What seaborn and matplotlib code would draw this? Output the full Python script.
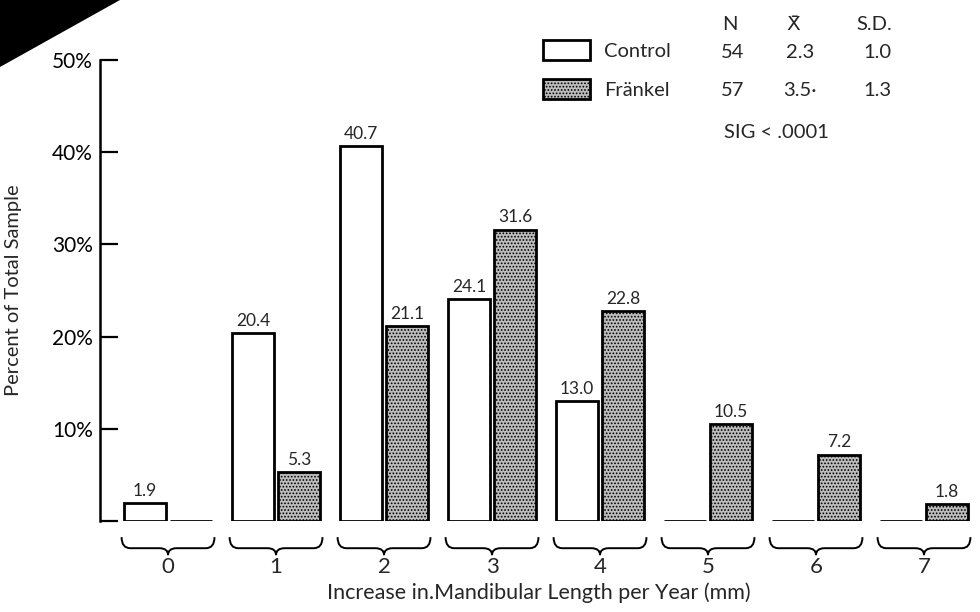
import pandas as pd
import matplotlib.pyplot as plt
import seaborn as sns
from matplotlib.path import Path
from matplotlib.patches import PathPatch, Polygon
import matplotlib.transforms as mtransforms

# data
groups = ["0", "1", "2", "3", "4", "5", "6", "7"]
control = [1.9, 20.4, 40.7, 24.1, 13.0, 0, 0, 0]
frankel = [0, 5.3, 21.1, 31.6, 22.8, 10.5, 7.2, 1.8]
series = ["Control", "Fränkel"]
table_n = ["54", "57"]
table_mean = ["2.3", "3.5·"]
table_sd = ["1.0", "1.3"]
y_ticks = [0, 10, 20, 30, 40, 50]
y_ticklabels = ["", "10%", "20%", "30%", "40%", "50%"]

df = pd.DataFrame({
    "group": groups * 2,
    "series": [series[0]] * len(groups) + [series[1]] * len(groups),
    "value": control + frankel,
})

sns.set_style("white")
plt.rcParams["font.family"] = ["Lato", "DejaVu Sans"]
plt.rcParams["hatch.linewidth"] = 0.8

fig = plt.figure(figsize=(9.8, 6.12), dpi=100)
ax = fig.add_axes([100 / 980, 1 - 521 / 612, 878 / 980, 461 / 612])

sns.barplot(
    data=df, x="group", y="value", hue="series",
    palette=["white", "#bdbdbd"], edgecolor="black", linewidth=2,
    width=0.85, gap=0.07, legend=False, ax=ax,
)

# stipple the Fränkel bars
for p in ax.containers[1]:
    p.set_hatch(".....")

# value labels, skip empty bars
for cont, vals in zip(ax.containers, [control, frankel]):
    ax.bar_label(cont, labels=[f"{v:.1f}" if v > 0 else "" for v in vals],
                 padding=3, fontsize=12.5)

ax.set_xlim(-0.63, 7.5)
ax.set_ylim(0, 50)
ax.set_yticks(y_ticks)
ax.set_yticklabels(y_ticklabels, fontsize=15)
ax.tick_params(axis="y", left=True, direction="in", length=13, width=1.6, pad=5, colors="black")
ax.tick_params(axis="x", length=0, pad=26, labelsize=16)
ax.set_xlabel("Increase in.Mandibular Length per Year (mm)", fontsize=15.5, labelpad=4)
ax.set_ylabel("Percent of Total Sample", fontsize=14.5)
ax.yaxis.set_label_coords(-0.089, 0.5)
for s in ["top", "right", "bottom"]:
    ax.spines[s].set_visible(False)
ax.spines["left"].set_linewidth(1.8)
ax.spines["left"].set_color("black")

# curly braces under each group
trans = mtransforms.blended_transform_factory(ax.transData, ax.transAxes)
y_top, y_mid, y_tip = -0.035, -0.059, -0.074
r = 0.08
for i in range(len(groups)):
    x0, x1 = i - 0.43, i + 0.43
    verts = [
        (x0, y_top), (x0, y_mid), (x0 + r, y_mid),
        (i - r, y_mid), (i, y_mid), (i, y_tip),
        (i, y_mid), (i + r, y_mid),
        (x1 - r, y_mid), (x1, y_mid), (x1, y_top),
    ]
    codes = [Path.MOVETO, Path.CURVE3, Path.CURVE3,
             Path.LINETO, Path.CURVE3, Path.CURVE3,
             Path.CURVE3, Path.CURVE3,
             Path.LINETO, Path.CURVE3, Path.CURVE3]
    ax.add_patch(PathPatch(Path(verts, codes), fill=False, lw=1.4,
                           edgecolor="black", transform=trans, clip_on=False))

# legend with stats table
handles = [ax.containers[0][1], ax.containers[1][1]]
ax.legend(handles, series, loc="upper left",
          bbox_to_anchor=(543 / 980, 1 - 40 / 612), bbox_transform=fig.transFigure,
          frameon=False, fontsize=14.5, handlelength=2.35, handleheight=1.15,
          labelspacing=0.95, handletextpad=0.7, borderpad=0, borderaxespad=0)

def ftxt(x, y, s, **kw):
    fig.text(x / 980, 1 - y / 612, s, fontsize=14.5, va="center", ha="center", **kw)

ftxt(730, 25, "N")
ftxt(793, 25, "X\u0304", family=["DejaVu Sans"])
ftxt(874, 25, "S.D.")
for row, yy in enumerate([53, 90]):
    ftxt(733, yy, table_n[row])
    ftxt(800, yy, table_mean[row])
    ftxt(877, yy, table_sd[row])
ftxt(776, 133, "SIG < .0001")

# scan corner
fig.patches.append(Polygon([(0, 1), (120 / 980, 1), (0, 1 - 67 / 612)], closed=True,
                           transform=fig.transFigure, facecolor="black", edgecolor="none"))

plt.savefig("out.png", dpi=100)
